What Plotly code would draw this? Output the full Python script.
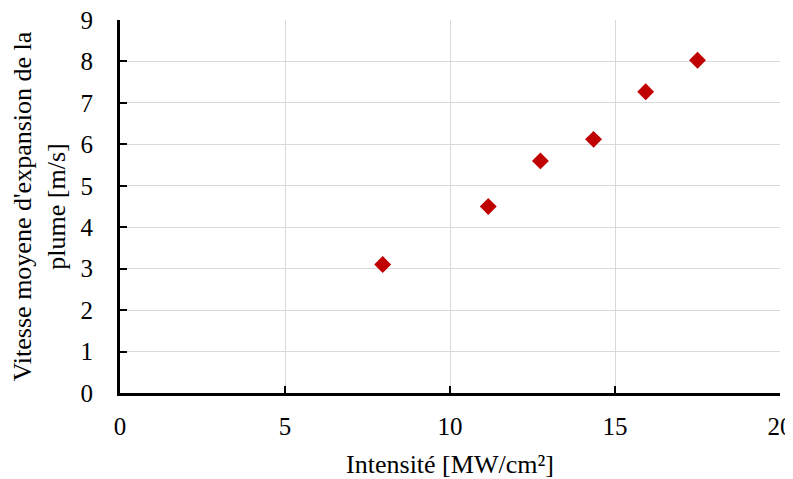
import plotly.graph_objects as go

intensite = [7.96, 11.16, 12.74, 14.35, 15.93, 17.5]
vitesse = [3.10, 4.50, 5.60, 6.12, 7.27, 8.03]
x_ticks = [0, 5, 10, 15, 20]
y_ticks = [0, 1, 2, 3, 4, 5, 6, 7, 8, 9]

font_family = "Liberation Serif, Times New Roman, serif"

fig = go.Figure()
fig.add_trace(go.Scatter(
    x=intensite, y=vitesse, mode="markers",
    marker=dict(symbol="diamond", size=13, color="#C00000", line=dict(width=0)),
    showlegend=False,
))

fig.update_layout(
    width=793, height=479,
    margin=dict(l=112, r=21, t=12, b=94, autoexpand=False),
    paper_bgcolor="white", plot_bgcolor="white",
    font=dict(family=font_family, size=25, color="#000000"),
    xaxis=dict(
        range=[0, 20], tickvals=x_ticks, ticktext=[str(v) for v in x_ticks],
        showgrid=True, gridcolor="#d9d9d9", gridwidth=1.3,
        showline=True, linecolor="black", linewidth=3,
        ticks="inside", ticklen=7, tickwidth=2, tickcolor="black",
        ticklabelstandoff=9, ticklabeloverflow="allow", automargin=False,
        zeroline=False,
        title=dict(text="Intensité [MW/cm²]", font=dict(size=26), standoff=16),
    ),
    yaxis=dict(
        range=[0, 9], tickvals=y_ticks, ticktext=[str(v) for v in y_ticks],
        showgrid=True, gridcolor="#d9d9d9", gridwidth=1.3,
        showline=True, linecolor="black", linewidth=3,
        ticks="inside", ticklen=7, tickwidth=2, tickcolor="black",
        ticklabelstandoff=19, ticklabeloverflow="allow", automargin=False,
        zeroline=False,
        title=dict(text="Vitesse moyene d'expansion de la<br>plume [m/s]", font=dict(size=26), standoff=12),
    ),
)

fig.write_html("out.html")
